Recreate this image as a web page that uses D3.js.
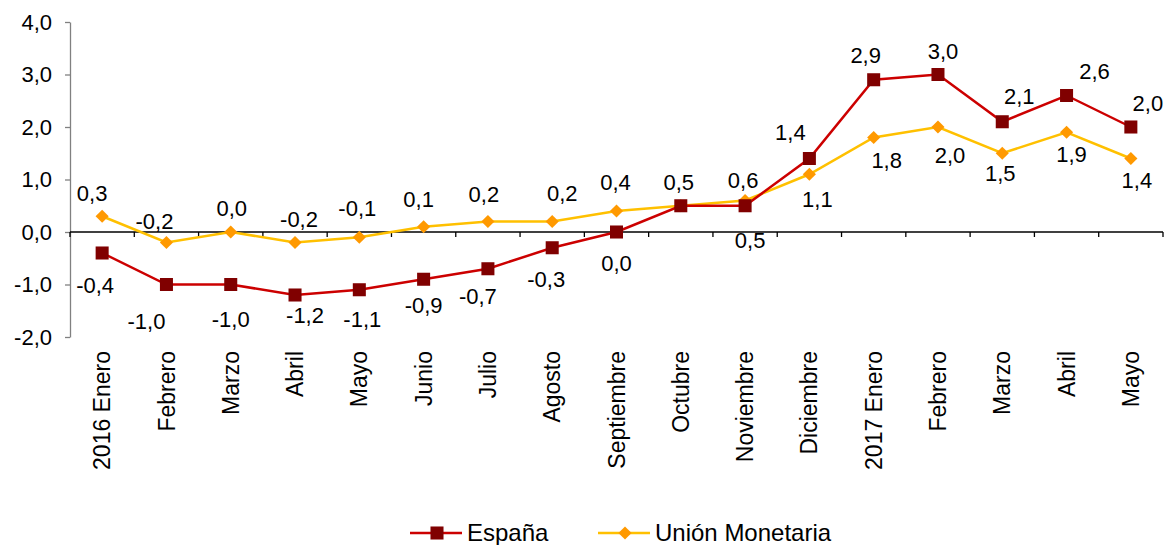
<!DOCTYPE html>
<html>
<head>
<meta charset="utf-8">
<script src="https://cdn.jsdelivr.net/npm/d3@7"></script>
<style>
  body { margin: 0; background: #fff; }
  text { font-family: "Liberation Sans", Arial, sans-serif; fill: #000; }
</style>
</head>
<body>
<div id="chart"></div>
<script>
var categories = ["2016 Enero", "Febrero", "Marzo", "Abril", "Mayo", "Junio", "Julio", "Agosto",
  "Septiembre", "Octubre", "Noviembre", "Diciembre", "2017 Enero", "Febrero", "Marzo", "Abril", "Mayo"];
var espana = [-0.4, -1.0, -1.0, -1.2, -1.1, -0.9, -0.7, -0.3, 0.0, 0.5, 0.5, 1.4, 2.9, 3.0, 2.1, 2.6, 2.0];
var union = [0.3, -0.2, 0.0, -0.2, -0.1, 0.1, 0.2, 0.2, 0.4, 0.5, 0.6, 1.1, 1.8, 2.0, 1.5, 1.9, 1.4];
var yTicks = [-2, -1, 0, 1, 2, 3, 4];
var seriesNames = ["España", "Unión Monetaria"];

// label offsets (px) from each point, as placed in the original
var espLabelPos = [[-7,32],[-20,37],[0,35],[10,20],[3,30],[0,26],[-10,28],[-6,32],[0,31],[-2,-23],
  [5,35],[-19,-26],[-8,-24],[5,-23],[17,-25],[28,-24],[17,-24]];
var uniLabelPos = [[-10,-23],[-12,-21],[1,-24],[4,-23],[-2,-29],[-5,-27],[-4,-27],[10,-28],[-1,-29],[-2,-23],
  [-2,-20],[8,25],[13,23],[12,28],[-2,20],[5,22],[6,22]];

var width = 1171, height = 545;
var mLeft = 70, mRight = 1163, mTop = 22, mBottom = 337;

var svg = d3.select("#chart").append("svg")
    .attr("width", width)
    .attr("height", height);

var idx = d3.range(categories.length);
var x = d3.scaleBand().domain(idx).range([mLeft, mRight]);
var y = d3.scaleLinear().domain([-2, 4]).range([mBottom, mTop]);
var cx = function(i) { return x(i) + x.bandwidth() / 2; };
var fmt = function(v) { return v.toFixed(1).replace(".", ","); };

// y axis
var yAxis = svg.append("g")
    .attr("transform", "translate(" + mLeft + ",0)")
    .call(d3.axisLeft(y).tickValues(yTicks).tickFormat(fmt).tickSize(5).tickSizeOuter(0).tickPadding(13));
yAxis.select(".domain").attr("stroke", "#808080").attr("stroke-width", 1.3);
yAxis.selectAll(".tick line").attr("stroke", "#808080").attr("stroke-width", 1.3);
yAxis.selectAll(".tick text").style("font-size", "22px").attr("fill", "#000");

// x axis at zero
var xg = svg.append("g");
xg.append("line")
    .attr("x1", mLeft).attr("x2", mRight)
    .attr("y1", y(0)).attr("y2", y(0))
    .attr("stroke", "#000").attr("stroke-width", 1.3);
xg.selectAll(".xt").data(d3.range(categories.length + 1)).enter().append("line")
    .attr("x1", function(i) { return mLeft + i * x.bandwidth(); })
    .attr("x2", function(i) { return mLeft + i * x.bandwidth(); })
    .attr("y1", y(0)).attr("y2", y(0) + 5)
    .attr("stroke", "#000").attr("stroke-width", 1.3);

svg.selectAll(".xl").data(idx).enter().append("text")
    .attr("transform", function(i) { return "translate(" + cx(i) + ",351) rotate(-90)"; })
    .attr("text-anchor", "end")
    .attr("dy", "0.35em")
    .style("font-size", "23px")
    .text(function(i) { return categories[i]; });

var line = d3.line()
    .x(function(d, i) { return cx(i); })
    .y(function(d) { return y(d); });

// Unión Monetaria
svg.append("path")
    .attr("d", line(union))
    .attr("fill", "none")
    .attr("stroke", "#FFC000")
    .attr("stroke-width", 2.5);

// España
svg.append("path")
    .attr("d", line(espana))
    .attr("fill", "none")
    .attr("stroke", "#CC0000")
    .attr("stroke-width", 2.5);

var square = d3.symbol().type(d3.symbolSquare).size(170);
var diamond = d3.symbol().type(d3.symbolDiamond2).size(110);

svg.selectAll(".um").data(union).enter().append("path")
    .attr("d", diamond)
    .attr("transform", function(d, i) { return "translate(" + cx(i) + "," + y(d) + ")"; })
    .attr("fill", "#FF9900");

svg.selectAll(".es").data(espana).enter().append("path")
    .attr("d", square)
    .attr("transform", function(d, i) { return "translate(" + cx(i) + "," + y(d) + ")"; })
    .attr("fill", "#800000");

// data labels
svg.selectAll(".ul").data(union).enter().append("text")
    .attr("x", function(d, i) { return cx(i) + uniLabelPos[i][0]; })
    .attr("y", function(d, i) { return y(d) + uniLabelPos[i][1]; })
    .attr("text-anchor", "middle")
    .attr("dy", "0.35em")
    .style("font-size", "22px")
    .text(fmt);

// skip a label that sits exactly on top of the other series' one (Octubre)
var espLabels = idx.filter(function(i) {
  return !(espana[i] === union[i] && espLabelPos[i][0] === uniLabelPos[i][0] && espLabelPos[i][1] === uniLabelPos[i][1]);
});
svg.selectAll(".el").data(espLabels).enter().append("text")
    .attr("x", function(i) { return cx(i) + espLabelPos[i][0]; })
    .attr("y", function(i) { return y(espana[i]) + espLabelPos[i][1]; })
    .attr("text-anchor", "middle")
    .attr("dy", "0.35em")
    .style("font-size", "22px")
    .text(function(i) { return fmt(espana[i]); });

// legend
var legend = svg.append("g").attr("transform", "translate(0,533)");
var items = [
  { name: seriesNames[0], x: 410, stroke: "#CC0000", fill: "#800000", sym: square },
  { name: seriesNames[1], x: 598, stroke: "#FFC000", fill: "#FF9900", sym: diamond }
];
items.forEach(function(it) {
  legend.append("line")
      .attr("x1", it.x).attr("x2", it.x + 52)
      .attr("stroke", it.stroke).attr("stroke-width", 2.5);
  legend.append("path")
      .attr("d", it.sym)
      .attr("transform", "translate(" + (it.x + 27) + ",0)")
      .attr("fill", it.fill);
  legend.append("text")
      .attr("x", it.x + 57)
      .attr("dy", "0.35em")
      .style("font-size", "24px")
      .text(it.name);
});
</script>
</body>
</html>
